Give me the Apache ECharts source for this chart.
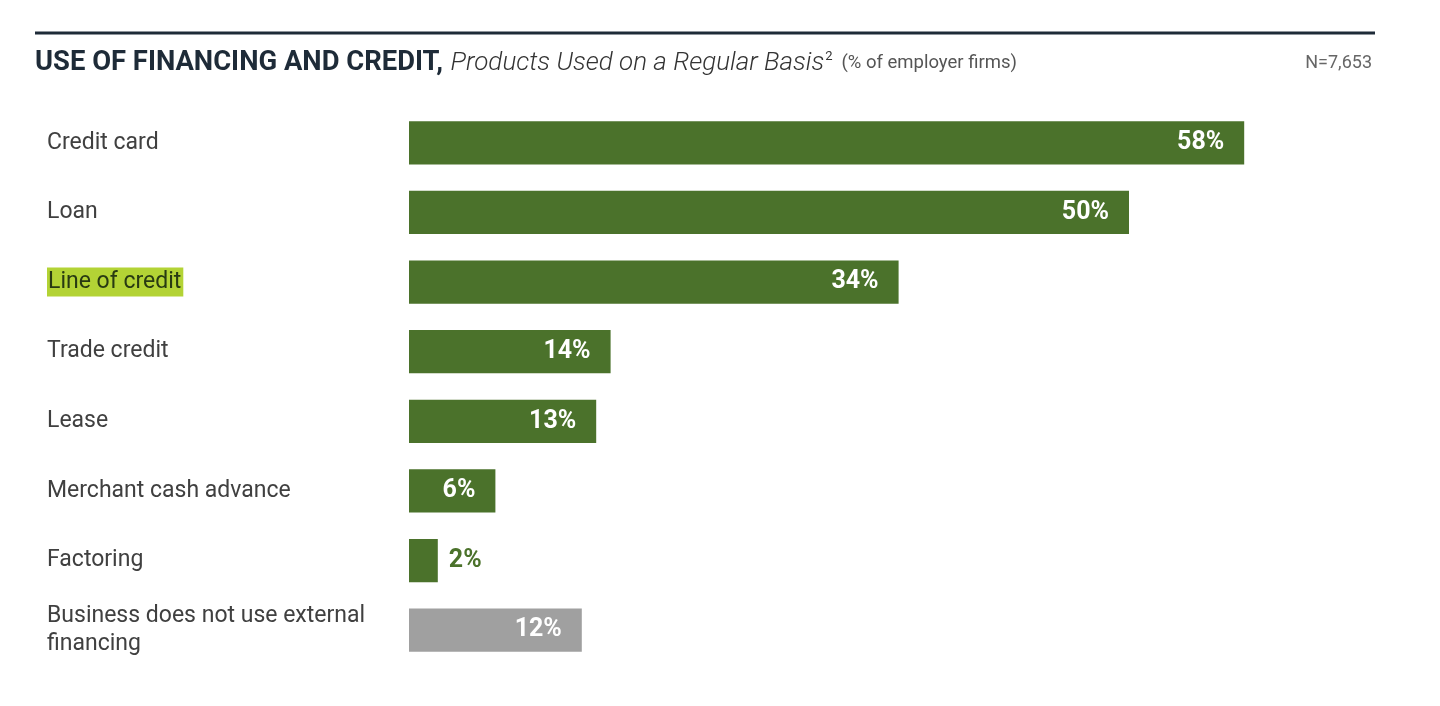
<!DOCTYPE html>
<html><head><meta charset="utf-8">
<script src="https://cdn.jsdelivr.net/npm/echarts@6/dist/echarts.min.js"></script>
<style>html,body{margin:0;padding:0;background:#fff}#c{width:1440px;height:706px}</style>
</head><body><div id="c"></div>
<script>
const categories = ["Credit card","Loan","Line of credit","Trade credit","Lease","Merchant cash advance","Factoring","Business does not use external\nfinancing"];
const values = [58,50,34,14,13,6,2,12];
const barColors = ["#4b722b","#4b722b","#4b722b","#4b722b","#4b722b","#4b722b","#4b722b","#a0a0a0"];
const outsideLabel = [false,false,false,false,false,false,true,false];
const highlighted = "Line of credit";

const FONT = "Roboto, sans-serif";
const chart = echarts.init(document.getElementById('c'));
chart.setOption({
  animation:false,
  textStyle:{fontFamily:FONT},
  title:{
    left:35, top:50, padding:0,
    text:"{a|USE OF FINANCING AND CREDIT,} {b|Products Used on a Regular Basis}{s|2}  {c|(% of employer firms)}",
    textStyle:{fontWeight:'normal',rich:{
      a:{fontFamily:FONT,fontWeight:'bold',fontSize:27.4,color:'#1e2b38',padding:[0,3,0,0]},
      b:{fontFamily:FONT,fontStyle:'italic',fontWeight:300,fontSize:26,color:'#333'},
      s:{fontFamily:FONT,fontWeight:'normal',fontSize:13,color:'#333',verticalAlign:'top',padding:[0,0,14,1]},
      c:{fontFamily:FONT,fontWeight:'normal',fontSize:18.5,color:'#555'}
    }}
  },
  graphic:[
    {type:'line',shape:{x1:35,y1:33,x2:1375,y2:33},style:{stroke:'#1e2b38',lineWidth:3}},
    {type:'text',right:68,top:54,style:{text:'N=7,653',font:"18px "+FONT,fill:'#666'}}
  ],
  grid:{left:409,right:167,top:108,bottom:41,containLabel:false},
  xAxis:{type:'value',min:0,max:60,show:false},
  yAxis:{type:'category',data:categories,inverse:true,
    axisLine:{show:false},axisTick:{show:false},
    axisLabel:{align:'left',margin:362,fontSize:23,color:'#404040',lineHeight:28,fontFamily:FONT,
      formatter:v=>v===highlighted?'{h|'+v+'}':v,
      rich:{h:{backgroundColor:'#b3d335',color:'#283a12',fontSize:23,fontFamily:FONT,padding:[3,2,3,1]}}}
  },
  series:[{type:'bar',barWidth:'62%',
    data:values.map((v,i)=>({value:v,itemStyle:{color:barColors[i]},
      label:outsideLabel[i]?{position:'right',distance:11,color:'#4b722b'}:{position:'insideRight',distance:20,color:'#fff'}})),
    label:{show:true,formatter:'{c}%',fontSize:25,fontWeight:'bold',fontFamily:FONT}
  }]
});
</script></body></html>
